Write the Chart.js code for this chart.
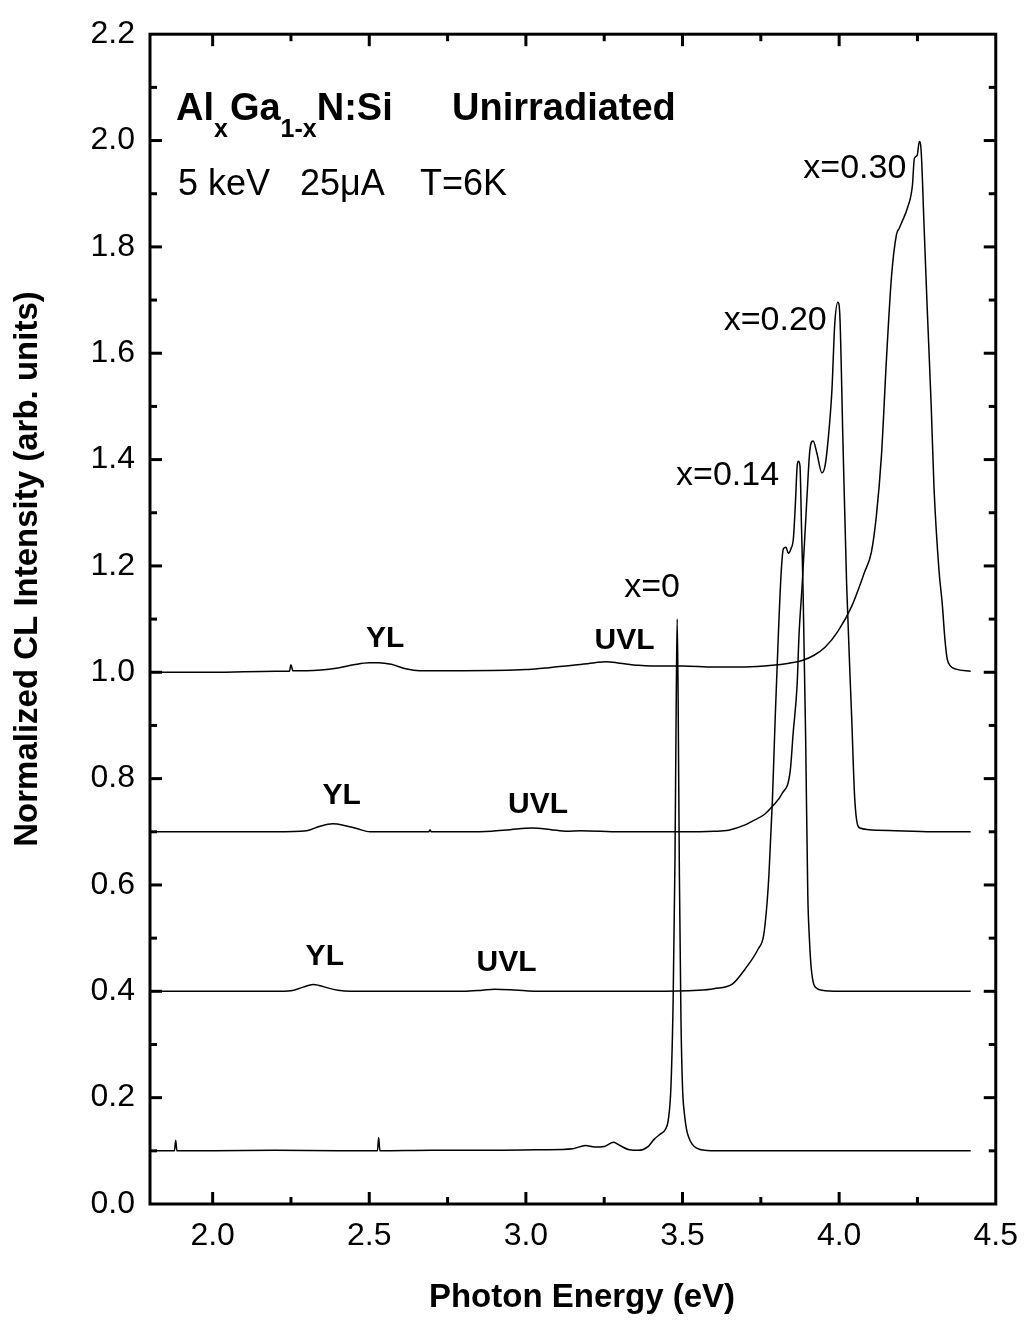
<!DOCTYPE html>
<html><head><meta charset="utf-8">
<script src="https://cdn.jsdelivr.net/npm/chart.js@4/dist/chart.umd.min.js"></script>
<style>html,body{margin:0;padding:0;background:#fff}#wrap{width:1031px;height:1322px}</style>
</head><body><div id="wrap"><canvas id="c" width="1031" height="1322"></canvas></div>
<script>
// ---- tick values ----
const xTickValues = [2.0, 2.5, 3.0, 3.5, 4.0, 4.5];
const xMinorValues = [2.25, 2.75, 3.25, 3.75, 4.25];
const yTickValues = [0.0, 0.2, 0.4, 0.6, 0.8, 1.0, 1.2, 1.4, 1.6, 1.8, 2.0, 2.2];
const yMinorValues = [0.1, 0.3, 0.5, 0.7, 0.9, 1.1, 1.3, 1.5, 1.7, 1.9, 2.1];

// ---- series x=0 (offset 0.1) ----
const e0 = [1.80, 1.878, 1.882, 1.886, 2.00, 2.20, 2.40, 2.526, 2.530, 2.534, 2.70, 2.90, 3.05, 3.15, 3.19, 3.22, 3.25, 3.28, 3.30, 3.33, 3.36, 3.39, 3.41, 3.43, 3.445, 3.455, 3.463, 3.470, 3.476, 3.480, 3.483, 3.486, 3.490, 3.495, 3.500, 3.506, 3.513, 3.520, 3.530, 3.545, 3.570, 3.620, 3.80, 4.00, 4.20, 4.42];
const i0 = [0.100, 0.100, 0.120, 0.100, 0.100, 0.101, 0.100, 0.100, 0.125, 0.100, 0.101, 0.101, 0.102, 0.104, 0.110, 0.107, 0.108, 0.116, 0.110, 0.102, 0.101, 0.108, 0.122, 0.132, 0.140, 0.160, 0.220, 0.380, 0.650, 0.950, 1.100, 0.950, 0.620, 0.350, 0.220, 0.170, 0.140, 0.125, 0.113, 0.105, 0.101, 0.100, 0.100, 0.100, 0.100, 0.100];

// ---- series x=0.14 (offset 0.4) ----
const e14 = [1.80, 2.00, 2.20, 2.25, 2.28, 2.30, 2.322, 2.34, 2.37, 2.40, 2.44, 2.60, 2.80, 2.86, 2.90, 2.95, 3.00, 3.04, 3.20, 3.40, 3.55, 3.60, 3.66, 3.70, 3.742, 3.759, 3.770, 3.776, 3.787, 3.796, 3.806, 3.815, 3.822, 3.830, 3.838, 3.846, 3.854, 3.860, 3.866, 3.870, 3.875, 3.880, 3.885, 3.893, 3.900, 3.905, 3.910, 3.917, 3.930, 3.945, 4.00, 4.20, 4.42];
const i14 = [0.400, 0.400, 0.400, 0.401, 0.406, 0.410, 0.413, 0.411, 0.406, 0.402, 0.400, 0.400, 0.400, 0.402, 0.404, 0.403, 0.401, 0.400, 0.400, 0.400, 0.402, 0.405, 0.414, 0.442, 0.480, 0.505, 0.567, 0.620, 0.760, 0.916, 1.071, 1.188, 1.232, 1.235, 1.224, 1.232, 1.252, 1.313, 1.388, 1.397, 1.388, 1.270, 1.150, 0.880, 0.580, 0.500, 0.450, 0.418, 0.405, 0.402, 0.400, 0.400, 0.400];

// ---- series x=0.20 (offset 0.7) ----
const e20 = [1.80, 2.00, 2.20, 2.30, 2.34, 2.383, 2.42, 2.46, 2.503, 2.60, 2.690, 2.694, 2.698, 2.80, 2.89, 2.95, 3.02, 3.08, 3.13, 3.175, 3.30, 3.50, 3.60, 3.647, 3.700, 3.723, 3.760, 3.787, 3.818, 3.844, 3.853, 3.866, 3.872, 3.882, 3.897, 3.907, 3.917, 3.929, 3.945, 3.955, 3.965, 3.977, 3.986, 3.996, 4.002, 4.012, 4.024, 4.040, 4.050, 4.066, 4.123, 4.30, 4.42];
const i20 = [0.700, 0.700, 0.700, 0.702, 0.710, 0.715, 0.712, 0.706, 0.700, 0.700, 0.700, 0.704, 0.700, 0.700, 0.701, 0.704, 0.707, 0.704, 0.701, 0.702, 0.700, 0.700, 0.701, 0.703, 0.713, 0.720, 0.732, 0.748, 0.772, 0.815, 0.884, 0.978, 1.071, 1.164, 1.326, 1.420, 1.435, 1.412, 1.375, 1.388, 1.438, 1.531, 1.655, 1.696, 1.674, 1.438, 1.164, 0.916, 0.760, 0.707, 0.703, 0.700, 0.700];

// ---- series x=0.30 (offset 1.0) ----
const e30 = [1.80, 2.00, 2.20, 2.245, 2.250, 2.256, 2.30, 2.40, 2.45, 2.50, 2.53, 2.57, 2.62, 2.66, 2.80, 3.00, 3.06, 3.15, 3.22, 3.256, 3.30, 3.36, 3.40, 3.50, 3.60, 3.70, 3.787, 3.84, 3.882, 3.92, 3.955, 3.996, 4.040, 4.081, 4.103, 4.119, 4.135, 4.151, 4.167, 4.183, 4.192, 4.202, 4.218, 4.234, 4.240, 4.249, 4.256, 4.262, 4.271, 4.281, 4.294, 4.303, 4.319, 4.329, 4.338, 4.345, 4.355, 4.373, 4.42];
const i30 = [1.000, 1.000, 1.002, 1.002, 1.014, 1.003, 1.003, 1.008, 1.014, 1.018, 1.018, 1.015, 1.006, 1.003, 1.003, 1.005, 1.008, 1.013, 1.018, 1.020, 1.017, 1.013, 1.012, 1.012, 1.010, 1.010, 1.013, 1.017, 1.022, 1.032, 1.047, 1.077, 1.124, 1.188, 1.226, 1.295, 1.407, 1.588, 1.743, 1.823, 1.835, 1.849, 1.873, 1.916, 1.966, 1.972, 1.998, 1.979, 1.841, 1.687, 1.500, 1.345, 1.190, 1.130, 1.060, 1.025, 1.012, 1.006, 1.002];

// ---- annotation labels (data coordinates) ----
const curveLabels = [
  {text: 'x=0.30', x: 4.050, y: 1.948},
  {text: 'x=0.20', x: 3.796, y: 1.662},
  {text: 'x=0.14', x: 3.644, y: 1.369},
  {text: 'x=0', x: 3.403, y: 1.159}
];
const bandLabels = [
  {text: 'YL', x: 2.551, y: 1.063}, {text: 'UVL', x: 3.315, y: 1.060},
  {text: 'YL', x: 2.412, y: 0.767}, {text: 'UVL', x: 3.039, y: 0.750},
  {text: 'YL', x: 2.358, y: 0.465}, {text: 'UVL', x: 2.938, y: 0.453}
];

const FONT = "'Liberation Sans', Arial, sans-serif";
function pts(e, v) { return e.map((x, k) => ({x: x, y: v[k]})); }
function ds(e, v) {
  return {data: pts(e, v), borderColor: '#000', borderWidth: 1.5, pointRadius: 0,
          fill: false, showLine: true, cubicInterpolationMode: 'monotone'};
}

const framePlugin = {
  id: 'frame',
  afterDatasetsDraw(chart) {
    const ctx = chart.ctx, a = chart.chartArea, xs = chart.scales.x, ys = chart.scales.y;
    ctx.save();
    ctx.strokeStyle = '#000';
    ctx.lineWidth = 3;
    ctx.strokeRect(a.left, a.top, a.right - a.left, a.bottom - a.top);
    const tick = (vals, len) => {
      vals.forEach(v => {
        const px = xs.getPixelForValue(v);
        if (px <= a.left + 1 || px >= a.right - 1) return;
        ctx.beginPath(); ctx.moveTo(px, a.bottom); ctx.lineTo(px, a.bottom - len); ctx.stroke();
        ctx.beginPath(); ctx.moveTo(px, a.top); ctx.lineTo(px, a.top + len); ctx.stroke();
      });
    };
    const ytick = (vals, len) => {
      vals.forEach(v => {
        const py = ys.getPixelForValue(v);
        if (py <= a.top + 1 || py >= a.bottom - 1) return;
        ctx.beginPath(); ctx.moveTo(a.left, py); ctx.lineTo(a.left + len, py); ctx.stroke();
        ctx.beginPath(); ctx.moveTo(a.right, py); ctx.lineTo(a.right - len, py); ctx.stroke();
      });
    };
    tick(xTickValues, 12); tick(xMinorValues, 7);
    ytick(yTickValues, 12); ytick(yMinorValues, 7);

    // curve labels
    ctx.fillStyle = '#000';
    ctx.textAlign = 'center'; ctx.textBaseline = 'middle';
    ctx.font = '34px ' + FONT;
    curveLabels.forEach(l => ctx.fillText(l.text, xs.getPixelForValue(l.x), ys.getPixelForValue(l.y)));
    ctx.font = 'bold 30px ' + FONT;
    bandLabels.forEach(l => ctx.fillText(l.text, xs.getPixelForValue(l.x), ys.getPixelForValue(l.y)));

    // title block
    ctx.textAlign = 'left'; ctx.textBaseline = 'alphabetic';
    const big = 'bold 38px ' + FONT, small = 'bold 25px ' + FONT;
    let x = a.left + 26; const base = 120, subBase = 137;
    const seg = (t, f, y) => { ctx.font = f; ctx.fillText(t, x, y); x += ctx.measureText(t).width; };
    seg('Al', big, base); seg('x', small, subBase); x += 2;
    seg('Ga', big, base); seg('1-x', small, subBase);
    seg('N:Si', big, base);
    ctx.font = big; ctx.fillText('Unirradiated', 452, base);
    ctx.font = '36px ' + FONT;
    ctx.fillText('5 keV', 178, 195);
    ctx.fillText('25\u03bcA', 300, 195);
    ctx.fillText('T=6K', 420, 195);

    // axis titles
    ctx.font = 'bold 33px ' + FONT;
    ctx.textAlign = 'center'; ctx.textBaseline = 'middle';
    ctx.fillText('Photon Energy (eV)', 582, 1298);
    ctx.translate(28, 569); ctx.rotate(-Math.PI / 2);
    ctx.fillText('Normalized CL Intensity (arb. units)', 0, 0);
    ctx.restore();
  }
};

new Chart(document.getElementById('c'), {
  type: 'scatter',
  data: {datasets: [ds(e0, i0), ds(e14, i14), ds(e20, i20), ds(e30, i30)]},
  options: {
    responsive: false, animation: false, devicePixelRatio: 1,
    layout: {padding: {top: 25, right: 29, left: 0, bottom: 0}},
    plugins: {legend: {display: false}, tooltip: {enabled: false}},
    scales: {
      x: {type: 'linear', min: 1.8, max: 4.5,
          grid: {display: false, drawTicks: false}, border: {display: false},
          afterBuildTicks: s => { s.ticks = xTickValues.map(v => ({value: v})); },
          afterFit: s => { s.height = 118; },
          ticks: {padding: 13, color: '#000', font: {family: FONT, size: 32},
                  maxRotation: 0, autoSkip: false, callback: v => Number(v).toFixed(1)}},
      y: {type: 'linear', min: 0, max: 2.2,
          grid: {display: false, drawTicks: false}, border: {display: false},
          afterBuildTicks: s => { s.ticks = yTickValues.map(v => ({value: v})); },
          afterFit: s => { s.width = 150; },
          ticks: {padding: 15, color: '#000', font: {family: FONT, size: 32},
                  autoSkip: false, callback: v => Number(v).toFixed(1)}}
    }
  },
  plugins: [framePlugin]
});
</script></body></html>
